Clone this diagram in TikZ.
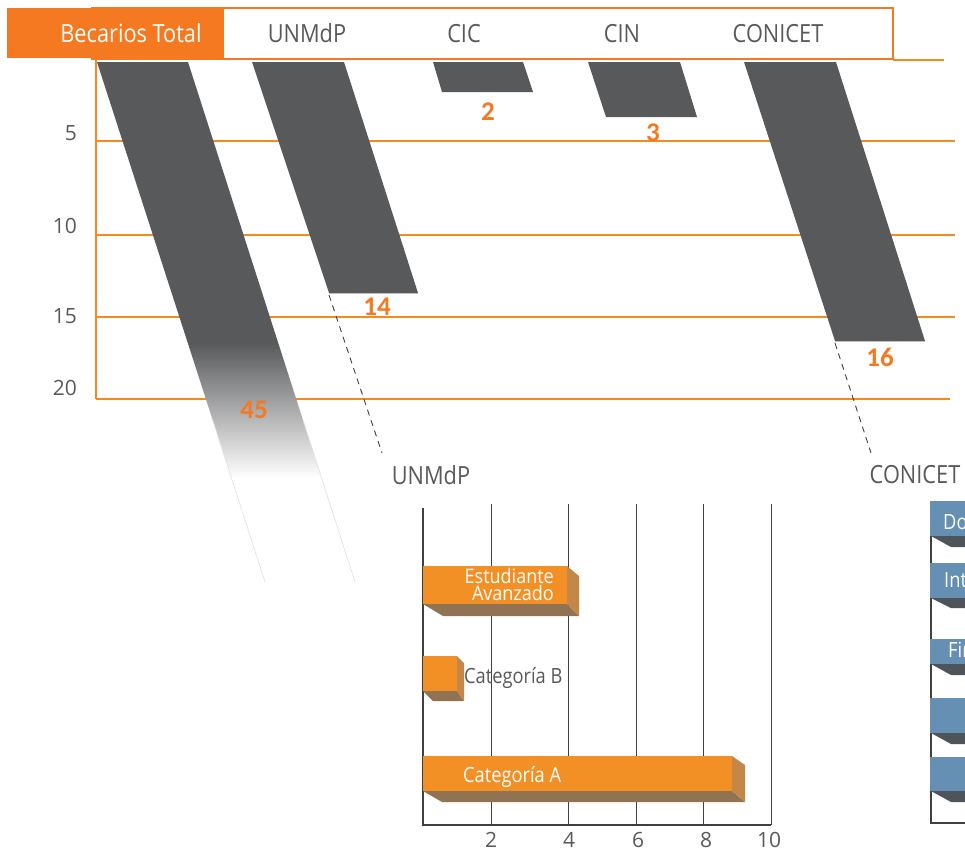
\documentclass[tikz,border=0pt]{standalone}
\usepackage{fontspec}
\usepackage{graphicx}
\setmainfont{Open Sans}
\newfontfamily\numfont{Carlito}
\definecolor{orng}{HTML}{F47920}
\definecolor{gridor}{HTML}{F58A1F}
\definecolor{bargray}{HTML}{58595B}
\definecolor{txtgray}{HTML}{595959}
\definecolor{barfront}{HTML}{F39025}
\definecolor{barside}{HTML}{C58748}
\definecolor{barbot}{HTML}{8F7352}
\definecolor{bluebar}{HTML}{6590B4}
\definecolor{blueshadow}{HTML}{4F535A}
\definecolor{axisdark}{HTML}{404040}
\newcommand{\nar}[1]{\scalebox{0.87}[1]{#1}}
\pgfdeclareverticalshading{barfade}{100bp}{color(0bp)=(white); color(35bp)=(white); color(48bp)=(bargray); color(100bp)=(bargray)}
\begin{document}
\begin{tikzpicture}[x=1pt,y=-1pt,
  hdr/.style={font=\fontsize{25}{30}\selectfont, text=txtgray, anchor=base, inner sep=0},
  ylab/.style={font=\fontsize{21}{25}\selectfont, text=txtgray, anchor=base east, inner sep=0},
  val/.style={font=\numfont\bfseries\fontsize{27}{30}\selectfont, text=orng, anchor=base, inner sep=0},
  barlab/.style={font=\fontsize{21}{25}\selectfont, text=white, inner sep=0},
  smalllab/.style={font=\fontsize{20}{22}\selectfont, text=white, inner sep=0},
  ticklab/.style={font=\fontsize{21}{25}\selectfont, text=txtgray, anchor=base, inner sep=0},
  hgrid/.style={draw=gridor, line width=1.4},
  darkbar/.style={fill=bargray},
  leader/.style={draw=axisdark, line width=0.9, dash pattern=on 6pt off 5pt},
  vgrid/.style={draw=axisdark, line width=0.9},
  axisline/.style={draw=axisdark, line width=2},
]
\useasboundingbox (0,0) rectangle (965,851);

% ---------- upper chart grid ----------
\draw[hgrid] (893,60) -- (944,60);
\draw[hgrid] (96,141) -- (955,141);
\draw[hgrid] (96,235) -- (955,235);
\draw[hgrid] (96,317) -- (955,317);
\draw[draw=gridor, line width=2.2] (96,399) -- (950,399);
\draw[draw=gridor, line width=1.6] (96,60) -- (96,399);

\node[ylab] (y5)  at (77,140) {5};
\node[ylab] (y10) at (77,233) {10};
\node[ylab] (y15) at (77,323) {15};
\node[ylab] (y20) at (77,395) {20};

% ---------- header ----------
\draw[draw=orng, line width=2.5] (92,8) rectangle (893,59);
\fill[orng] (7,8) rectangle (224,58);
\node[hdr, text=white] (hTotal) at (131,42) {\nar{Becarios Total}};
\node[hdr] (hUNMdP) at (307,42) {\nar{UNMdP}};
\node[hdr] (hCIC) at (464,42) {\nar{CIC}};
\node[hdr] (hCIN) at (622,42) {\nar{CIN}};
\node[hdr] (hCONICET) at (778,42) {\nar{CONICET}};

% ---------- bars ----------
\shade[shading=barfade] (97,62) -- (188,62) -- (355,582) -- (265,582) -- cycle;
\draw[draw=black!12, line width=0.6] (212.7,420) -- (265,582);
\draw[draw=black!12, line width=0.6] (303,420) -- (355,582);

\fill[darkbar] (252,62) -- (344,62) -- (418,293) -- (329,293) -- cycle;
\draw[draw=black!25, line width=0.6] (329,293.5) -- (418,293.5);
\fill[darkbar] (433,62) -- (523,62) -- (533,92) -- (442,92) -- cycle;
\fill[darkbar] (588,62) -- (680,62) -- (697,117) -- (606,117) -- cycle;
\fill[darkbar] (744,62) -- (836,62) -- (925,341) -- (835,341) -- cycle;
\draw[draw=black!25, line width=0.6] (835,341.5) -- (925,341.5);

\node[val] (v45) at (254,418) {45};
\node[val] (v14) at (377,315) {14};
\node[val] (v2)  at (488,120) {2};
\node[val] (v3)  at (653,141) {3};
\node[val] (v16) at (880,366) {16};

% ---------- leaders ----------
\coordinate (c14) at (329,295);
\coordinate (e14) at (382,453);
\coordinate (c16) at (835,343);
\coordinate (e16) at (871,453);
\draw[leader] (c14) -- (e14);
\draw[leader] (c16) -- (e16);

\node[hdr] (lUNMdP) at (431,484) {\nar{UNMdP}};
\node[hdr] (lCONICET) at (915,483) {\nar{CONICET}};

% ---------- lower chart: UNMdP ----------
\foreach \gx in {491,568,636,703,771} \draw[vgrid] (\gx,504) -- (\gx,825);
\draw[axisline] (423,508) -- (423,825) -- (771,825);
\node[ticklab] (t2)  at (491,847) {2};
\node[ticklab] (t4)  at (569,847) {4};
\node[ticklab] (t6)  at (638,847) {6};
\node[ticklab] (t8)  at (706,847) {8};
\node[ticklab] (t10) at (769,847) {10};

% Estudiante Avanzado
\fill[barbot] (423,604) -- (567,604) -- (579,616) -- (443,616) -- cycle;
\fill[barside] (567,566) -- (579,576) -- (579,616) -- (567,604) -- cycle;
\fill[barfront] (423,566) rectangle (567,604);
% Categoria B
\fill[barbot] (423,691) -- (457,691) -- (464,701) -- (433,701) -- cycle;
\fill[barside] (457,656) -- (464,663) -- (464,701) -- (457,691) -- cycle;
\fill[barfront] (423,656) rectangle (457,691);
% Categoria A
\fill[barbot] (423,791) -- (732,791) -- (745,802) -- (442,802) -- cycle;
\fill[barside] (732,756) -- (745,765) -- (745,802) -- (732,791) -- cycle;
\fill[barfront] (423,756) rectangle (732,791);

\node[smalllab, anchor=base east] (bEst) at (554,583) {\scalebox{0.9}[1]{Estudiante}};
\node[smalllab, anchor=base east] (bAva) at (554,600) {\scalebox{0.9}[1]{Avanzado}};
\node[barlab, text=txtgray, anchor=base west] (bCB) at (464,683) {\nar{Categoría B}};
\node[barlab, anchor=base west] (bCA) at (463,782) {\nar{Categoría A}};

% ---------- lower chart: CONICET ----------
\draw[axisline] (931,515) -- (931,823) -- (965,823);
\foreach \ta/\tb/\tc in {501/536/547, 563/598/608, 639/664/675, 698/733/744, 757/791/802}{
  \fill[blueshadow] (931,\tb) -- (965,\tb) -- (965,\tc) -- (951,\tc) -- cycle;
  \fill[bluebar] (930,\ta) rectangle (965,\tb);
}
\node[barlab, anchor=base west] (cDo) at (943,529) {\nar{Do}};
\node[barlab, anchor=base west] (cInt) at (944,587) {\nar{Int}};
\node[barlab, anchor=base west] (cFi) at (948,657) {\nar{Fir}};
\end{tikzpicture}
\end{document}
